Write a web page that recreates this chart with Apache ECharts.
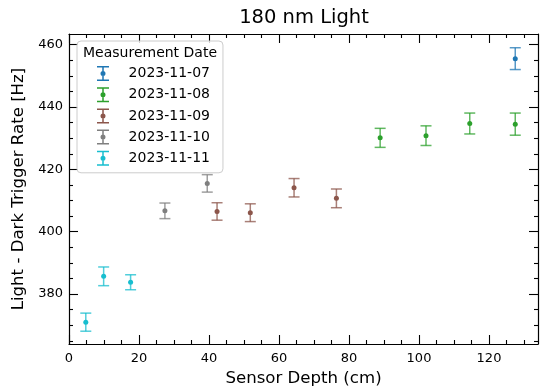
<!DOCTYPE html>
<html><head><meta charset="utf-8">
<script src="https://cdn.jsdelivr.net/npm/echarts@6/dist/echarts.min.js"></script>
<style>html,body{margin:0;padding:0;background:#fff}#c{width:548px;height:386px}</style>
</head><body><div id="c"></div>
<script>
// ---- data ----
const dates = ['2023-11-07', '2023-11-08', '2023-11-09', '2023-11-10', '2023-11-11'];
const colors = ['#1f77b4', '#2ca02c', '#8c564b', '#7f7f7f', '#17becf'];

const depth07 = [127.5];
const rate07  = [455.5];
const err07   = [3.5];

const depth08 = [88.9, 102.0, 114.5, 127.5];
const rate08  = [430.1, 430.8, 434.7, 434.5];
const err08   = [3.05, 3.15, 3.35, 3.55];

const depth09 = [42.3, 51.8, 64.3, 76.4];
const rate09  = [406.5, 406.1, 414.1, 410.7];
const err09   = [2.8, 2.85, 2.95, 3.0];

const depth10 = [27.4, 39.5];
const rate10  = [406.7, 415.5];
const err10   = [2.5, 2.8];

const depth11 = [4.8, 9.9, 17.6];
const rate11  = [371.0, 385.7, 383.8];
const err11   = [2.9, 3.0, 2.4];

const xTicks = [0, 20, 40, 60, 80, 100, 120];
const xMinorTicks = [5, 10, 15, 25, 30, 35, 45, 50, 55, 65, 70, 75, 85, 90, 95, 105, 110, 115, 125, 130];
const yTicks = [380, 400, 420, 440, 460];
const yMinorTicks = [365, 370, 375, 385, 390, 395, 405, 410, 415, 425, 430, 435, 445, 450, 455];

const groups = [
  [depth07, rate07, err07],
  [depth08, rate08, err08],
  [depth09, rate09, err09],
  [depth10, rate10, err10],
  [depth11, rate11, err11]
];

// ---- chart ----
const FONT = 'DejaVu Sans';
const X_MIN = 0, X_MAX = 134, Y_MIN = 364.0, Y_MAX = 463.4;

function errRender(params, api) {
  const x = api.value(0), y = api.value(1), e = api.value(2);
  const t = api.coord([x, y + e]);
  const b = api.coord([x, y - e]);
  const w = 5.5;
  const style = { stroke: api.visual('color'), lineWidth: 1.5, opacity: 0.75, fill: null };
  return {
    type: 'group',
    children: [
      { type: 'line', shape: { x1: t[0], y1: t[1], x2: b[0], y2: b[1] }, style: style },
      { type: 'line', shape: { x1: t[0] - w, y1: t[1], x2: t[0] + w, y2: t[1] }, style: style },
      { type: 'line', shape: { x1: b[0] - w, y1: b[1], x2: b[0] + w, y2: b[1] }, style: style }
    ]
  };
}

const series = [];
groups.forEach((g, i) => {
  const [xs, ys, es] = g;
  series.push({
    name: dates[i], type: 'custom', renderItem: errRender,
    itemStyle: { color: colors[i] },
    encode: { x: 0, y: 1 },
    data: xs.map((x, k) => [x, ys[k], es[k]]),
    z: 2
  });
  series.push({
    name: dates[i], type: 'scatter', symbol: 'circle', symbolSize: 5,
    itemStyle: { color: colors[i], opacity: 1 },
    data: xs.map((x, k) => [x, ys[k]]),
    z: 3
  });
});

const lineStyle = { color: '#000', width: 1.2 };
function mkAxis(isX, pos, major, labels) {
  const ticks = isX ? (major ? xTicks : xMinorTicks) : (major ? yTicks : yMinorTicks);
  return {
    type: 'value', position: pos,
    min: isX ? X_MIN : Y_MIN, max: isX ? X_MAX : Y_MAX,
    axisLine: { show: major, onZero: false, lineStyle: lineStyle },
    axisTick: { show: true, inside: true, length: major ? 9 : 4, customValues: ticks,
      lineStyle: { color: '#000', width: 1.1 } },
    axisLabel: { show: labels, margin: isX ? 8 : 6, fontSize: 13, fontFamily: FONT, color: '#000',
      customValues: ticks, formatter: v => String(v) },
    splitLine: { show: false },
    name: labels ? (isX ? 'Sensor Depth (cm)' : 'Light - Dark Trigger Rate [Hz]') : '',
    nameLocation: 'middle', nameGap: isX ? 26 : 35,
    nameTextStyle: { fontSize: 16.6, fontFamily: FONT, color: '#000' }
  };
}

const iconPath = 'path://M0,0H12V1.5H0Z M5.25,1.5H6.75V13.5H5.25Z M0,13.5H12V15H0Z M8.5,7.5A2.5,2.5 0 1 1 3.5,7.5A2.5,2.5 0 1 1 8.5,7.5Z';

const option = {
  animation: false,
  backgroundColor: '#fff',
  title: [
    { text: '180 nm Light', left: 304, top: 8, textAlign: 'center', padding: 0,
      textStyle: { fontSize: 19.5, fontWeight: 'normal', fontFamily: FONT, color: '#000' } },
    { text: 'Measurement Date', left: 83, top: 46, padding: 0, z: 10,
      textStyle: { fontSize: 14, fontWeight: 'normal', fontFamily: FONT, color: '#000' } }
  ],
  grid: { left: 69, right: 10, top: 34, bottom: 42, containLabel: false, outerBoundsMode: 'none' },
  xAxis: [mkAxis(true, 'bottom', true, true), mkAxis(true, 'bottom', false, false),
          mkAxis(true, 'top', true, false), mkAxis(true, 'top', false, false)],
  yAxis: [mkAxis(false, 'left', true, true), mkAxis(false, 'left', false, false),
          mkAxis(false, 'right', true, false), mkAxis(false, 'right', false, false)],
  legend: {
    orient: 'vertical', left: 77, top: 41,
    padding: [25, 13, 7, 20],
    itemWidth: 12, itemHeight: 15, itemGap: 6.2,
    backgroundColor: 'rgba(255,255,255,0.8)', borderColor: '#cccccc', borderWidth: 1, borderRadius: 4,
    textStyle: { fontSize: 14, fontFamily: FONT, color: '#000', padding: [0, 0, 0, 14.6] },
    data: dates.map(d => ({ name: d, icon: iconPath })),
    z: 5
  },
  series: series
};

const chart = echarts.init(document.getElementById('c'), null, { renderer: 'canvas' });
chart.setOption(option);
</script>
</body></html>
